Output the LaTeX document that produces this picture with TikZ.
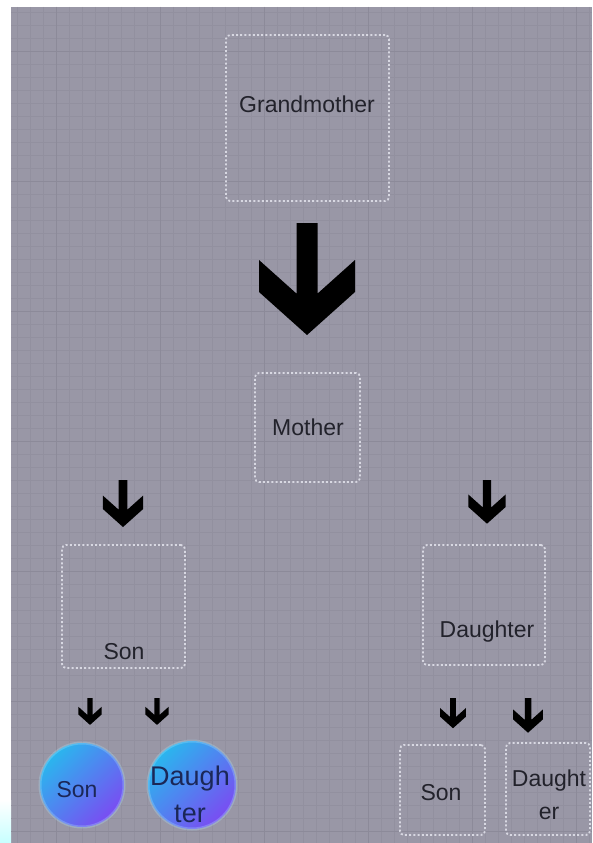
\documentclass[tikz,border=0pt]{standalone}
\usepackage{fontspec}
\setmainfont{Liberation Sans}
\definecolor{bg}{HTML}{9997A6}
\definecolor{gridc}{HTML}{92909F}
\definecolor{gridm}{HTML}{8C8A99}
\definecolor{dashc}{HTML}{D8D8E2}
\definecolor{txt}{HTML}{22222B}
\definecolor{cy}{HTML}{2AB6EE}
\definecolor{vi}{HTML}{7A4CF2}
\definecolor{navy}{HTML}{1B2757}
\tikzset{
  frame/.style={draw=dashc, line width=1.8pt, dash pattern=on 2pt off 2.2pt, rounded corners=4pt, inner sep=0pt},
  lbl/.style={text=txt, font=\fontsize{23}{27}\selectfont, inner sep=0pt, align=center},
  blbl/.style={text=navy, inner sep=0pt, align=center},
  bubble/.style={circle, inner sep=0pt, top color=cy, bottom color=vi, shading angle=45, draw=cy!40!white, draw opacity=0.3, line width=3pt},
  pics/downarrow/.style={code={
    \fill[black] (-10.5,0) -- (10.5,0) -- (10.5,70.6) -- (48,37) -- (48,69) -- (0,112)
      -- (-48,69) -- (-48,37) -- (-10.5,70.6) -- cycle;}}
}
\begin{document}
\begin{tikzpicture}[x=1pt,y=-1pt]
  % margins and background
  \fill[white] (0,0) rectangle (592,843);
  \useasboundingbox (0,0) rectangle (592,843);
  \fill[bg] (11,7) rectangle (592,843);
  \shade[top color=white, bottom color=cyan!22] (0,800) rectangle (11,843);
  % grid
  \foreach \gx in {17,30,...,592} \draw[gridc, line width=0.4pt] (\gx,7) -- (\gx,843);
  \foreach \gy in {12,25,...,843} \draw[gridc, line width=0.4pt] (11,\gy) -- (592,\gy);
  \foreach \gx in {56,160,...,592} \draw[gridm, line width=0.8pt] (\gx,7) -- (\gx,843);
  \foreach \gy in {51,181,...,843} \draw[gridm, line width=0.8pt] (11,\gy) -- (592,\gy);

  % boxes
  \node[frame, minimum width=163pt, minimum height=166pt] (gm) at (307.5,118) {};
  \node[lbl] (gmt) at (307,104) {Grandmother};
  \node[frame, minimum width=105pt, minimum height=109pt] (mo) at (307.5,427.5) {};
  \node[lbl] (mot) at (308,427) {Mother};
  \node[frame, minimum width=123pt, minimum height=123pt] (son) at (123.5,606.5) {};
  \node[lbl] (sont) at (124,652) {Son};
  \node[frame, minimum width=122pt, minimum height=120pt] (dau) at (484,605) {};
  \node[lbl] (daut) at (487,632) {Daughter};
  \node[frame, minimum width=85pt, minimum height=90pt] (sonb) at (442.5,790) {};
  \node[lbl] (sonbt) at (441,793) {Son};
  \node[frame, minimum width=84pt, minimum height=92pt] (daub) at (548,789) {};
  \node[lbl, font=\fontsize{23}{33}\selectfont] (daubt) at (549,795) {Daught\\er};

  % circles
  \node[bubble, minimum size=84pt] (c1) at (82,785) {};
  \node[blbl, font=\fontsize{23}{27}\selectfont] (c1t) at (77,790) {Son};
  \node[bubble, minimum size=88pt] (c2) at (192,785) {};
  \node[blbl, font=\fontsize{27}{37}\selectfont] (c2t) at (190,794) {Daugh\\ter};

  % arrows
  \pic[scale=1] at (307,223) {downarrow};
  \pic[scale=0.42] at (123,480) {downarrow};
  \pic[scale=0.39] at (487,480) {downarrow};
  \pic[scale=0.24] at (90,698) {downarrow};
  \pic[scale=0.24] at (157,698) {downarrow};
  \pic[scale=0.27] at (453,698) {downarrow};
  \pic[scale=0.31] at (528,698) {downarrow};
\end{tikzpicture}
\end{document}
